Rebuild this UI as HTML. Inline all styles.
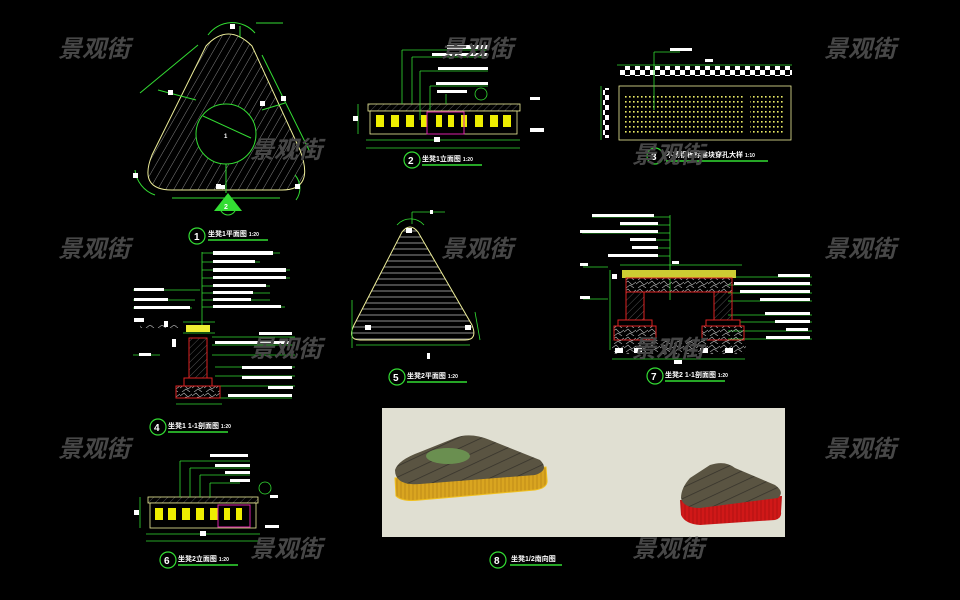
<!DOCTYPE html>
<html><head><meta charset="utf-8"><style>
html,body{margin:0;padding:0;background:#000;width:960px;height:600px;overflow:hidden}
svg{display:block}
.t{font-family:"Liberation Sans","Noto Sans CJK SC",sans-serif;fill:#fff;font-weight:bold}
.wm{font-family:"Liberation Sans","Noto Sans CJK SC",sans-serif;fill:#474747;font-size:24px;font-style:italic;font-weight:bold}
</style></head><body>
<svg width="960" height="600" viewBox="0 0 960 600" xmlns="http://www.w3.org/2000/svg">
<defs>
<pattern id="diag" width="7" height="7" patternUnits="userSpaceOnUse" patternTransform="rotate(30)"><line x1="0" y1="0" x2="0" y2="7" stroke="#bbb" stroke-width="0.7"/></pattern>
<pattern id="horiz" width="6" height="6" patternUnits="userSpaceOnUse"><line x1="0" y1="3" x2="6" y2="3" stroke="#ccc" stroke-width="0.7"/></pattern>
<pattern id="dots" width="4" height="5" patternUnits="userSpaceOnUse"><rect x="1" y="1" width="1.6" height="1.6" fill="#ee6"/></pattern>
<pattern id="check" width="10" height="10" patternUnits="userSpaceOnUse"><rect width="5" height="5" fill="#fff"/><rect x="5" y="5" width="5" height="5" fill="#fff"/></pattern>
<pattern id="rock" width="12" height="8" patternUnits="userSpaceOnUse"><path d="M0 4 L4 1 L8 5 L12 2 M2 8 L6 5 L10 8" stroke="#bbb" stroke-width="0.6" fill="none"/></pattern>
<pattern id="hatchr" width="5" height="5" patternUnits="userSpaceOnUse" patternTransform="rotate(45)"><line x1="0" y1="0" x2="0" y2="5" stroke="#888" stroke-width="0.6"/></pattern>
<pattern id="wood" width="10" height="10" patternUnits="userSpaceOnUse" patternTransform="rotate(-25)"><rect width="10" height="10" fill="#5a5442"/><line x1="0" y1="0" x2="10" y2="0" stroke="#35322a" stroke-width="1.5"/></pattern>
<pattern id="yel" width="4" height="4" patternUnits="userSpaceOnUse"><rect width="4" height="4" fill="#d9a520"/><line x1="1" y1="0" x2="1" y2="4" stroke="#b88416" stroke-width="0.8"/></pattern>
<pattern id="red" width="4" height="4" patternUnits="userSpaceOnUse"><rect width="4" height="4" fill="#d01818"/><line x1="1" y1="0" x2="1" y2="4" stroke="#a81010" stroke-width="0.8"/></pattern>
</defs>

<!-- 1: triangle plan -->
<g>
<path d="M206 46 Q228 22 252 46 L300 150 Q315 190 282 190 L172 190 Q138 190 152 155 Z" fill="url(#diag)" stroke="#ee9" stroke-width="1"/>
<circle cx="226" cy="134" r="30" fill="#000" stroke="#3d3" stroke-width="1"/>
<text x="224" y="138" class="t" font-size="6">1</text>
<line x1="203" y1="116" x2="251" y2="138" stroke="#3d3"/>
<g stroke="#3d3" fill="none" stroke-width="1">
<path d="M140 93 L198 45"/><path d="M135 170 A30 30 0 0 0 155 195"/><path d="M208 35 A30 30 0 0 1 255 33"/>
<path d="M262 55 L310 152"/><path d="M295 175 A20 20 0 0 1 296 200"/>
<line x1="172" y1="198" x2="280" y2="198"/><line x1="226" y1="164" x2="226" y2="193"/>
<line x1="256" y1="23" x2="283" y2="23"/><line x1="240" y1="26" x2="240" y2="38"/>
<line x1="196" y1="100" x2="158" y2="90"/><line x1="262" y1="110" x2="285" y2="103"/>
</g>
<g fill="#fff"><rect x="230" y="24" width="5" height="5"/><rect x="168" y="90" width="5" height="5"/><rect x="281" y="96" width="5" height="5"/><rect x="260" y="101" width="5" height="5"/><rect x="133" y="173" width="5" height="5"/><rect x="216" y="184" width="5" height="5"/><rect x="295" y="184" width="5" height="5"/><rect x="218" y="185" width="7" height="4"/></g>
<path d="M214 211 L228 193 L242 211 Z" fill="#3d3"/><circle cx="228" cy="207" r="8" fill="none" stroke="#3d3"/>
<text x="224" y="209" class="t" font-size="7">2</text>
<circle cx="197" cy="236" r="8" fill="none" stroke="#3d3" stroke-width="1.2"/><text x="194" y="240" class="t" font-size="10">1</text>
<text x="208" y="236" class="t" font-size="7">坐凳1平面图 <tspan font-size="5">1:20</tspan></text><line x1="208" y1="240" x2="268" y2="240" stroke="#3d3" stroke-width="1.5"/>
</g>

<!-- 2: elevation 1 -->
<g>
<rect x="368" y="104" width="152" height="7" fill="url(#hatchr)" stroke="#ee9" stroke-width="0.8"/>
<rect x="370" y="111" width="147" height="23" fill="#000" stroke="#ee9" stroke-width="0.8"/>
<g fill="#ee0">
<rect x="376" y="115" width="8" height="12"/><rect x="391" y="115" width="8" height="12"/><rect x="406" y="115" width="8" height="12"/><rect x="421" y="115" width="6" height="12"/><rect x="436" y="115" width="6" height="12"/><rect x="448" y="115" width="6" height="12"/><rect x="461" y="115" width="6" height="12"/><rect x="475" y="115" width="8" height="12"/><rect x="490" y="115" width="8" height="12"/><rect x="503" y="115" width="8" height="12"/></g>
<rect x="427" y="112" width="37" height="22" fill="none" stroke="#d2a" stroke-width="1"/>
<g stroke="#3d3" fill="none" stroke-width="0.8">
<line x1="366" y1="140" x2="520" y2="140"/><line x1="366" y1="148" x2="520" y2="148"/>
<line x1="402" y1="50" x2="402" y2="104"/><line x1="402" y1="50" x2="488" y2="50"/>
<line x1="412" y1="57" x2="412" y2="104"/><line x1="412" y1="57" x2="488" y2="57"/>
<line x1="420" y1="71" x2="420" y2="120"/><line x1="420" y1="71" x2="488" y2="71"/>
<line x1="430" y1="86" x2="430" y2="110"/><line x1="430" y1="86" x2="488" y2="86"/>
<line x1="446" y1="94" x2="446" y2="104"/><circle cx="481" cy="94" r="6"/>
<line x1="358" y1="104" x2="358" y2="134"/>
</g>
<g fill="#fff"><rect x="447" y="45" width="42" height="4"/><rect x="432" y="53" width="56" height="3"/><rect x="438" y="67" width="50" height="3"/><rect x="436" y="82" width="52" height="3"/><rect x="437" y="90" width="30" height="3"/><rect x="353" y="116" width="5" height="5"/><rect x="434" y="137" width="6" height="5"/><rect x="530" y="97" width="10" height="3"/><rect x="530" y="128" width="14" height="4"/></g>
<circle cx="412" cy="160" r="8" fill="none" stroke="#3d3" stroke-width="1.2"/><text x="408" y="164" class="t" font-size="10">2</text>
<text x="422" y="161" class="t" font-size="7">坐凳1立面图 <tspan font-size="5">1:20</tspan></text><line x1="422" y1="165" x2="482" y2="165" stroke="#3d3" stroke-width="1.5"/>
</g>

<!-- 3: perforated panel -->
<g>
<rect x="620" y="66" width="172" height="10" fill="url(#check)"/>
<rect x="619" y="86" width="172" height="54" fill="#000" stroke="#ee9" stroke-width="0.8"/>
<rect x="624" y="94" width="160" height="40" fill="url(#dots)"/>
<rect x="745" y="92" width="5" height="44" fill="#000"/>
<g stroke="#3d3" fill="none" stroke-width="0.8"><line x1="617" y1="65" x2="792" y2="65"/><line x1="654" y1="52" x2="654" y2="110"/><line x1="654" y1="52" x2="680" y2="52"/><line x1="601" y1="86" x2="601" y2="140"/></g>
<rect x="603" y="88" width="6" height="50" fill="url(#check)"/>
<rect x="670" y="48" width="22" height="3" fill="#fff"/><rect x="705" y="59" width="8" height="3" fill="#fff"/>
<circle cx="655" cy="156" r="8" fill="none" stroke="#3d3" stroke-width="1.2"/><text x="651" y="160" class="t" font-size="10">3</text>
<text x="666" y="157" class="t" font-size="7">不锈钢板标准块穿孔大样 <tspan font-size="5">1:10</tspan></text><line x1="666" y1="161" x2="768" y2="161" stroke="#3d3" stroke-width="1.5"/>
</g>

<!-- 4: section 1 -->
<g>
<g stroke="#3d3" fill="none" stroke-width="0.8">
<line x1="202" y1="252" x2="202" y2="325"/>
<line x1="202" y1="253" x2="280" y2="253"/><line x1="202" y1="262" x2="260" y2="262"/><line x1="202" y1="270" x2="290" y2="270"/><line x1="202" y1="278" x2="290" y2="278"/><line x1="202" y1="286" x2="270" y2="286"/><line x1="202" y1="293" x2="270" y2="293"/><line x1="202" y1="300" x2="270" y2="300"/><line x1="202" y1="307" x2="285" y2="307"/>
<line x1="133" y1="290" x2="200" y2="290"/><line x1="133" y1="300" x2="195" y2="300"/><line x1="133" y1="308" x2="192" y2="308"/>
<line x1="183" y1="322" x2="215" y2="322"/><line x1="183" y1="333" x2="215" y2="333"/>
<line x1="212" y1="337" x2="295" y2="337"/><line x1="212" y1="345" x2="295" y2="345"/><line x1="212" y1="355" x2="295" y2="355"/><line x1="215" y1="367" x2="295" y2="367"/><line x1="215" y1="376" x2="295" y2="376"/><line x1="215" y1="386" x2="295" y2="386"/><line x1="220" y1="398" x2="292" y2="398"/>
<line x1="176" y1="404" x2="222" y2="404"/><line x1="133" y1="355" x2="160" y2="355"/>
</g>
<rect x="186" y="325" width="24" height="7" fill="#ee3"/>
<rect x="189" y="338" width="18" height="42" fill="url(#hatchr)" stroke="#d22" stroke-width="1"/>
<rect x="184" y="378" width="28" height="8" fill="#000" stroke="#d22"/>
<rect x="176" y="386" width="44" height="12" fill="url(#rock)" stroke="#d22"/>
<rect x="140" y="325" width="42" height="4" fill="url(#rock)"/>
<g fill="#fff"><rect x="213" y="251" width="60" height="4"/><rect x="213" y="260" width="42" height="3"/><rect x="213" y="268" width="73" height="4"/><rect x="213" y="276" width="73" height="3"/><rect x="213" y="284" width="53" height="3"/><rect x="213" y="291" width="40" height="3"/><rect x="213" y="298" width="38" height="3"/><rect x="213" y="305" width="68" height="3"/><rect x="134" y="288" width="30" height="3"/><rect x="134" y="298" width="34" height="3"/><rect x="134" y="306" width="56" height="3"/><rect x="134" y="318" width="10" height="4"/><rect x="164" y="321" width="4" height="6"/><rect x="172" y="339" width="4" height="8"/><rect x="139" y="353" width="12" height="3"/><rect x="259" y="332" width="33" height="3"/><rect x="215" y="341" width="75" height="3"/><rect x="242" y="366" width="50" height="3"/><rect x="242" y="376" width="50" height="3"/><rect x="268" y="386" width="25" height="3"/><rect x="228" y="394" width="64" height="3"/></g>
<circle cx="158" cy="427" r="8" fill="none" stroke="#3d3" stroke-width="1.2"/><text x="154" y="431" class="t" font-size="10">4</text>
<text x="168" y="428" class="t" font-size="7">坐凳1 1-1剖面图 <tspan font-size="5">1:20</tspan></text><line x1="168" y1="432" x2="228" y2="432" stroke="#3d3" stroke-width="1.5"/>
</g>

<!-- 5: triangle 2 plan -->
<g>
<path d="M402 232 Q410 222 418 232 L472 325 Q478 340 465 340 L360 340 Q347 340 354 325 Z" fill="url(#horiz)" stroke="#ee9" stroke-width="1"/>
<g stroke="#3d3" fill="none" stroke-width="0.8"><path d="M397 225 A18 18 0 0 1 424 225"/><line x1="356" y1="345" x2="470" y2="345"/><line x1="352" y1="300" x2="352" y2="348"/><line x1="475" y1="312" x2="480" y2="340"/><line x1="412" y1="212" x2="412" y2="224"/><line x1="412" y1="212" x2="445" y2="212"/></g>
<g fill="#fff"><rect x="406" y="228" width="6" height="5"/><rect x="365" y="325" width="6" height="5"/><rect x="465" y="325" width="6" height="5"/><rect x="427" y="353" width="3" height="6"/><rect x="430" y="210" width="3" height="4"/></g>
<circle cx="397" cy="377" r="8" fill="none" stroke="#3d3" stroke-width="1.2"/><text x="393" y="381" class="t" font-size="10">5</text>
<text x="407" y="378" class="t" font-size="7">坐凳2平面图 <tspan font-size="5">1:20</tspan></text><line x1="407" y1="382" x2="467" y2="382" stroke="#3d3" stroke-width="1.5"/>
</g>

<!-- 6: elevation 2 -->
<g>
<rect x="148" y="497" width="110" height="6" fill="url(#hatchr)" stroke="#ee9" stroke-width="0.8"/>
<rect x="150" y="503" width="106" height="25" fill="#000" stroke="#ee9" stroke-width="0.8"/>
<g fill="#ee0"><rect x="155" y="508" width="8" height="12"/><rect x="168" y="508" width="8" height="12"/><rect x="182" y="508" width="8" height="12"/><rect x="196" y="508" width="8" height="12"/><rect x="210" y="508" width="8" height="12"/><rect x="224" y="508" width="6" height="12"/><rect x="236" y="508" width="6" height="12"/></g>
<rect x="218" y="505" width="32" height="22" fill="none" stroke="#d2a"/>
<g stroke="#3d3" fill="none" stroke-width="0.8"><line x1="146" y1="534" x2="260" y2="534"/><line x1="146" y1="541" x2="260" y2="541"/><line x1="180" y1="461" x2="180" y2="497"/><line x1="180" y1="461" x2="250" y2="461"/><line x1="190" y1="468" x2="190" y2="497"/><line x1="190" y1="468" x2="250" y2="468"/><line x1="200" y1="475" x2="200" y2="497"/><line x1="200" y1="475" x2="250" y2="475"/><line x1="210" y1="483" x2="210" y2="497"/><line x1="210" y1="483" x2="240" y2="483"/><circle cx="265" cy="488" r="6"/><line x1="140" y1="497" x2="140" y2="528"/></g>
<g fill="#fff"><rect x="210" y="454" width="38" height="3"/><rect x="215" y="464" width="35" height="3"/><rect x="225" y="471" width="25" height="3"/><rect x="230" y="479" width="20" height="3"/><rect x="270" y="495" width="8" height="3"/><rect x="265" y="525" width="14" height="3"/><rect x="200" y="531" width="6" height="5"/><rect x="134" y="510" width="5" height="5"/></g>
<circle cx="168" cy="560" r="8" fill="none" stroke="#3d3" stroke-width="1.2"/><text x="164" y="564" class="t" font-size="10">6</text>
<text x="178" y="561" class="t" font-size="7">坐凳2立面图 <tspan font-size="5">1:20</tspan></text>
<line x1="178" y1="565" x2="238" y2="565" stroke="#3d3" stroke-width="1.5"/>
</g>

<!-- 7: section 2 -->
<g>
<g stroke="#3d3" fill="none" stroke-width="0.8">
<line x1="670" y1="215" x2="670" y2="300"/>
<line x1="592" y1="217" x2="670" y2="217"/><line x1="620" y1="225" x2="670" y2="225"/><line x1="582" y1="233" x2="670" y2="233"/><line x1="630" y1="240" x2="670" y2="240"/><line x1="632" y1="248" x2="670" y2="248"/><line x1="608" y1="256" x2="670" y2="256"/>
<line x1="620" y1="265" x2="742" y2="265"/>
<line x1="728" y1="277" x2="812" y2="277"/><line x1="728" y1="285" x2="812" y2="285"/><line x1="728" y1="293" x2="812" y2="293"/><line x1="728" y1="301" x2="812" y2="301"/><line x1="728" y1="315" x2="812" y2="315"/><line x1="728" y1="322" x2="812" y2="322"/><line x1="728" y1="331" x2="812" y2="331"/><line x1="728" y1="339" x2="812" y2="339"/>
<line x1="612" y1="359" x2="745" y2="359"/><line x1="610" y1="270" x2="610" y2="350"/>
<line x1="583" y1="267" x2="608" y2="267"/><line x1="583" y1="299" x2="608" y2="299"/>
</g>
<rect x="622" y="270" width="114" height="8" fill="#cc3"/>
<rect x="626" y="278" width="106" height="14" fill="url(#rock)" stroke="#d22"/>
<rect x="626" y="292" width="18" height="28" fill="url(#hatchr)" stroke="#d22"/>
<rect x="714" y="292" width="18" height="28" fill="url(#hatchr)" stroke="#d22"/>
<rect x="618" y="320" width="34" height="6" fill="#000" stroke="#d22"/><rect x="706" y="320" width="34" height="6" fill="#000" stroke="#d22"/>
<rect x="614" y="326" width="42" height="14" fill="url(#rock)" stroke="#d22"/><rect x="702" y="326" width="42" height="14" fill="url(#rock)" stroke="#d22"/>
<rect x="612" y="340" width="134" height="14" fill="url(#rock)"/>
<g fill="#fff"><rect x="592" y="214" width="62" height="3"/><rect x="620" y="222" width="38" height="3"/><rect x="580" y="230" width="78" height="3"/><rect x="630" y="238" width="26" height="3"/><rect x="632" y="246" width="26" height="3"/><rect x="608" y="254" width="50" height="3"/><rect x="672" y="261" width="7" height="3"/><rect x="580" y="263" width="8" height="3"/><rect x="580" y="296" width="10" height="3"/><rect x="612" y="274" width="5" height="5"/><rect x="778" y="274" width="32" height="3"/><rect x="734" y="282" width="76" height="3"/><rect x="740" y="290" width="70" height="3"/><rect x="760" y="298" width="50" height="3"/><rect x="765" y="312" width="45" height="3"/><rect x="775" y="320" width="35" height="3"/><rect x="786" y="328" width="22" height="3"/><rect x="766" y="336" width="44" height="3"/><rect x="615" y="348" width="8" height="5"/><rect x="634" y="348" width="8" height="5"/><rect x="700" y="348" width="8" height="5"/><rect x="725" y="348" width="8" height="5"/><rect x="674" y="360" width="8" height="4"/></g>
<circle cx="655" cy="376" r="8" fill="none" stroke="#3d3" stroke-width="1.2"/><text x="651" y="380" class="t" font-size="10">7</text>
<text x="665" y="377" class="t" font-size="7">坐凳2 1-1剖面图 <tspan font-size="5">1:20</tspan></text><line x1="665" y1="381" x2="725" y2="381" stroke="#3d3" stroke-width="1.5"/>
</g>

<!-- 8: 3D render -->
<g>
<rect x="382" y="408" width="403" height="129" fill="#e0dfd2"/>
<path d="M395 478 L396 496 Q402 502 420 500 L535 490 Q548 488 547 480 L546 467 Z" fill="url(#yel)" stroke="#f0c020" stroke-width="1"/>
<path d="M395 470 Q398 460 420 452 L455 438 Q470 432 490 440 L540 460 Q550 470 535 475 L420 484 Q395 486 395 470 Z" fill="url(#wood)"/>
<ellipse cx="448" cy="456" rx="22" ry="8" fill="#6a8f50"/>
<path d="M680 500 L681 515 Q685 524 700 525 L775 520 Q782 518 781 512 L782 496 Z" fill="url(#red)"/>
<path d="M681 498 Q681 488 690 478 L710 465 Q725 460 735 468 L775 485 Q785 492 778 498 L700 508 Q683 508 681 498 Z" fill="url(#wood)"/>
<circle cx="498" cy="560" r="8" fill="none" stroke="#3d3" stroke-width="1.2"/><text x="494" y="564" class="t" font-size="10">8</text>
<text x="511" y="561" class="t" font-size="7">坐凳1/2南向图</text><line x1="510" y1="565" x2="562" y2="565" stroke="#3d3" stroke-width="1.5"/>
</g>

<!-- watermarks -->
<g>
<text x="58" y="57" class="wm">景观街</text><text x="441" y="57" class="wm">景观街</text><text x="824" y="57" class="wm">景观街</text>
<text x="250" y="158" class="wm">景观街</text><text x="632" y="163" class="wm">景观街</text>
<text x="58" y="257" class="wm">景观街</text><text x="441" y="257" class="wm">景观街</text><text x="824" y="257" class="wm">景观街</text>
<text x="250" y="357" class="wm">景观街</text><text x="632" y="357" class="wm">景观街</text>
<text x="58" y="457" class="wm">景观街</text><text x="824" y="457" class="wm">景观街</text>
<text x="250" y="557" class="wm">景观街</text><text x="632" y="557" class="wm">景观街</text>
</g>
</svg>
</body></html>
